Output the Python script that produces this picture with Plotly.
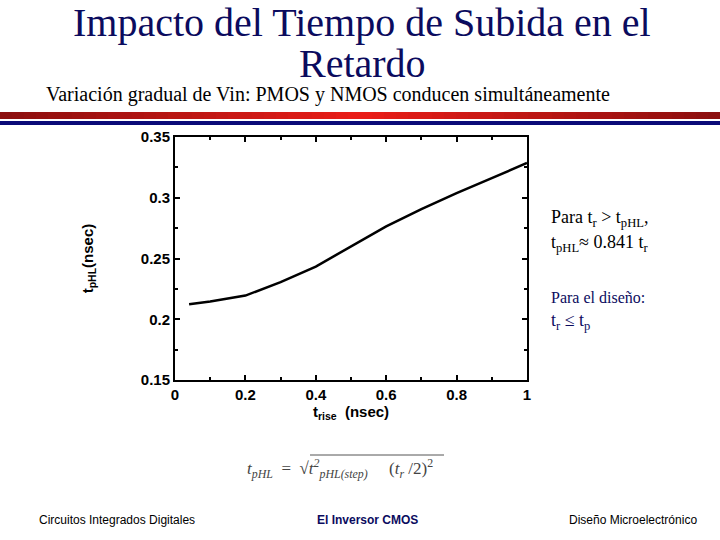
import plotly.graph_objects as go

# Data
t_rise = [0.04, 0.1, 0.2, 0.3, 0.4, 0.5, 0.6, 0.7, 0.8, 0.9, 1.0]
t_phl = [0.2124, 0.2146, 0.2195, 0.2305, 0.2434, 0.2599, 0.2764, 0.2907, 0.3038, 0.3162, 0.3286]
x_ticks = [0, 0.2, 0.4, 0.6, 0.8, 1]
x_tick_labels = ["0", "0.2", "0.4", "0.6", "0.8", "1"]
y_ticks = [0.15, 0.2, 0.25, 0.3, 0.35]
y_tick_labels = ["0.15", "0.2", "0.25", "0.3", "0.35"]

W, H = 720, 540
L, R, T, B = 175, 527, 137, 380  # plot area in px


def px(x):
    return (x - L) / (R - L)


def py(y):
    return (B - y) / (B - T)


fig = go.Figure()
fig.add_trace(go.Scatter(x=t_rise, y=t_phl, mode="lines",
                         line=dict(color="black", width=2.5), showlegend=False,
                         hoverinfo="skip"))

axis_font = dict(family="Liberation Sans", size=15, color="black")
tick_font = dict(family="Liberation Sans", size=15, color="black", weight="bold")
fig.update_xaxes(range=[0, 1], tickvals=x_ticks, ticktext=x_tick_labels,
                 ticks="inside", ticklen=5, tickwidth=1.5, tickcolor="black",
                 mirror="ticks", showline=True, linecolor="black", linewidth=2,
                 showgrid=False, zeroline=False, tickfont=tick_font,
                 minor=dict(ticks="inside", dtick=0.1, ticklen=3, tickcolor="black", showgrid=False),
                 title=dict(text="<b>t<sub>rise</sub>  (nsec)</b>", font=axis_font, standoff=0))
fig.update_yaxes(range=[0.15, 0.35], tickvals=y_ticks, ticktext=y_tick_labels,
                 ticks="inside", ticklen=5, tickwidth=1.5, tickcolor="black",
                 mirror="ticks", showline=True, linecolor="black", linewidth=2,
                 showgrid=False, zeroline=False, tickfont=tick_font,
                 minor=dict(ticks="inside", dtick=0.025, ticklen=3, tickcolor="black", showgrid=False),
                 title=dict(text="<b>t<sub>pHL</sub>(nsec)</b>", font=axis_font, standoff=44))

shapes = []
# red gradient stripe
n = 60
for i in range(n):
    f = i / (n - 1)
    d = abs(f - 0.5) * 2  # 0 center, 1 edges
    r = int(235 - 95 * d)
    g = int(30 - 15 * d)
    b = int(25 - 10 * d)
    x0 = W * i / n
    x1 = W * (i + 1) / n + 0.5
    shapes.append(dict(type="rect", xref="paper", yref="paper",
                       x0=px(x0), x1=px(x1), y0=py(119), y1=py(112),
                       fillcolor=f"rgb({r},{g},{b})", line=dict(width=0), layer="above"))
# blue stripe
shapes.append(dict(type="rect", xref="paper", yref="paper",
                   x0=px(0), x1=px(W), y0=py(125), y1=py(121),
                   fillcolor="#0a0a78", line=dict(width=0)))
# sqrt overbar in formula
shapes.append(dict(type="line", xref="paper", yref="paper",
                   x0=px(310), x1=px(444), y0=py(455), y1=py(455),
                   line=dict(color="#555555", width=1)))

serif = "Liberation Serif"
ann = []
ann.append(dict(text="Impacto del Tiempo de Subida en el", x=px(362), y=py(23),
                font=dict(family=serif, size=40, color="#0b0b5e")))
ann.append(dict(text="Retardo", x=px(362), y=py(64),
                font=dict(family=serif, size=40, color="#0b0b5e")))
ann.append(dict(text="Variación gradual de Vin: PMOS y NMOS conducen simultáneamente",
                x=px(44), y=py(94), xanchor="left",
                font=dict(family=serif, size=20, color="black")))
ann.append(dict(text="Para t<sub>r</sub> > t<sub>pHL</sub>,", x=px(549), y=py(218), xanchor="left",
                font=dict(family=serif, size=18, color="black")))
ann.append(dict(text="t<sub>pHL</sub>≈ 0.841 t<sub>r</sub>", x=px(549), y=py(243), xanchor="left",
                font=dict(family=serif, size=18, color="black")))
ann.append(dict(text="Para el diseño:", x=px(549), y=py(297), xanchor="left",
                font=dict(family=serif, size=16, color="#0b0b5e")))
ann.append(dict(text="t<sub>r</sub> ≤ t<sub>p</sub>", x=px(549), y=py(321), xanchor="left",
                font=dict(family=serif, size=18, color="#0b0b5e")))
ann.append(dict(text="<i>t<sub>pHL</sub></i>  =  √<i>t<sup>2</sup><sub>pHL(step)</sub></i>     (<i>t<sub>r</sub></i> /2)<sup>2</sup>",
                x=px(245), y=py(468), xanchor="left",
                font=dict(family=serif, size=17, color="#444444")))
ann.append(dict(text="Circuitos Integrados Digitales", x=px(37), y=py(520), xanchor="left",
                font=dict(family="Liberation Sans Narrow, Liberation Sans", size=12, color="black")))
ann.append(dict(text="<b>El Inversor CMOS</b>", x=px(367), y=py(520),
                font=dict(family="Liberation Sans Narrow, Liberation Sans", size=12, color="#0b0b5e")))
ann.append(dict(text="Diseño Microelectrónico", x=px(699), y=py(520), xanchor="right",
                font=dict(family="Liberation Sans Narrow, Liberation Sans", size=12, color="black")))
for a in ann:
    a.update(xref="paper", yref="paper", showarrow=False)
    a.setdefault("xanchor", "center")
    a["yanchor"] = "middle"

fig.update_layout(width=W, height=H, margin=dict(l=L, r=W - R, t=T, b=H - B),
                  plot_bgcolor="white", paper_bgcolor="white",
                  shapes=shapes, annotations=ann, showlegend=False)

fig.write_html("out.html", config={"displayModeBar": False},
               post_script="document.body.style.margin='0';")
